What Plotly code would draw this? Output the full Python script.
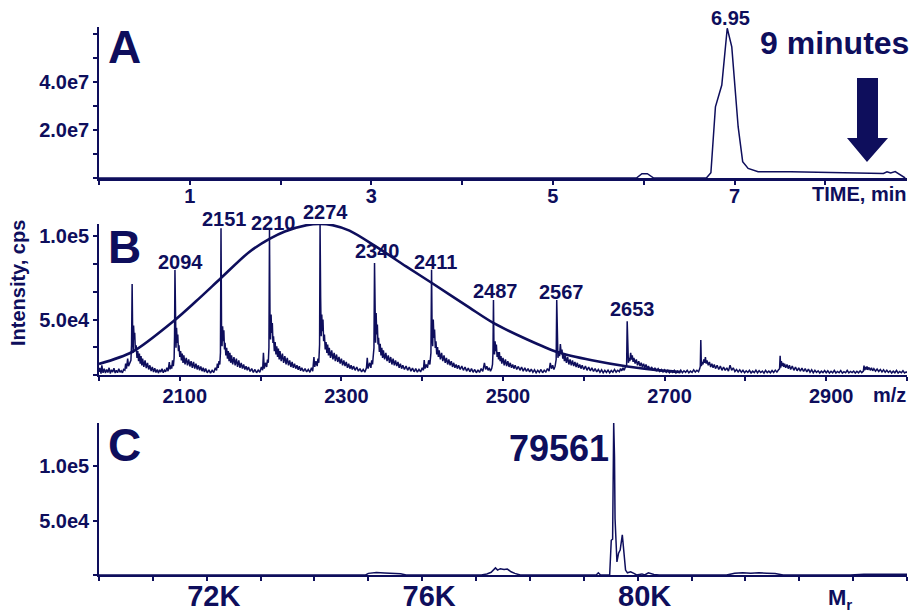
import plotly.graph_objects as go

NAVY = "#0e0e5c"
FONT = "Liberation Sans, Arial, sans-serif"
W, H = 915, 616

# ---------------- Panel A: chromatogram ----------------
a_time = [0.0, 5.92, 5.98, 6.04, 6.11, 6.69, 6.74, 6.79, 6.86, 6.92, 6.97, 7.04, 7.09, 7.15, 7.26, 7.62, 8.64, 8.68, 8.72, 8.77, 8.88]
a_int = [0, 0, 1.8e6, 1.8e6, 0, 0, 2.2e6, 2.97e7, 3.88e7, 6.25e7, 5.47e7, 2.14e7, 6.8e6, 4.0e6, 2.6e6, 2.6e6, 1.9e6, 2.6e6, 2.1e6, 2.7e6, 0]
a_ticks = [1, 3, 5, 7]
a_yticks = [2e7, 4e7]
a_yticktext = ["2.0e7", "4.0e7"]

# ---------------- Panel B: m/z spectrum (intensity in thousands of cps) ----------------
b_points = [
    (2000, 18.5), (2001, 21.0), (2002.5, 17.5), (2003.5, 22.5), (2005, 18.0), (2006.5, 20.5), (2008, 17.8), (2009.5, 20.0),
    (2011, 18.2), (2012.5, 21.0), (2014, 17.6), (2015.5, 19.8), (2017, 18.4), (2018.5, 20.8), (2020, 17.9), (2021.5, 19.5),
    (2023, 18.0), (2024.5, 20.5), (2026, 18.3), (2027.5, 19.2), (2029, 18.0), (2030.5, 20.0),
    (2032, 19.5), (2033, 23.5), (2034, 20.5), (2035.5, 26.5), (2036.5, 22.0), (2038, 24.5), (2039.5, 25.5), (2040.3, 35.0),
    (2041, 71.4), (2041.7, 40.0), (2042.3, 30.0), (2042.8, 46.5), (2043.5, 38.0), (2044.2, 42.0), (2045, 31.5), (2046, 34.5),
    (2047, 27.0), (2048, 31.0), (2049, 25.0), (2050, 29.5), (2051, 23.5), (2052, 28.0), (2053, 22.5), (2054, 26.5),
    (2055.5, 21.5), (2057, 25.5), (2058.5, 20.8), (2060, 24.0), (2061.5, 20.0), (2063, 22.5), (2064.5, 19.0), (2066, 21.5),
    (2067.5, 18.5), (2069, 20.8), (2070.5, 18.2), (2072, 20.0), (2073.5, 17.8), (2075, 19.8), (2076.5, 18.4), (2078, 20.5),
    (2079.5, 18.0), (2081, 19.6), (2082.5, 18.6), (2084, 21.0), (2085.5, 19.0), (2087, 24.5), (2088, 20.0),
    (2089, 22.5), (2090, 20.5), (2091, 25.5), (2092, 22.0), (2093, 27.0), (2093.5, 40.0), (2094, 79.9), (2094.7, 42.0),
    (2095.3, 33.0), (2096, 45.0), (2096.7, 36.0), (2097.5, 41.0), (2098.3, 31.0), (2099, 34.5), (2100, 27.5), (2101, 31.0),
    (2102, 25.5), (2103, 29.5), (2104, 24.0), (2105, 28.5), (2106.5, 23.0), (2108, 27.0), (2109.5, 22.5), (2111, 26.0),
    (2112.5, 21.8), (2114, 25.0), (2115.5, 21.0), (2117, 24.5), (2118.5, 20.5), (2120, 23.5), (2121.5, 20.0), (2123, 22.5),
    (2124.5, 19.5), (2126, 21.8), (2127.5, 19.0), (2129, 21.0), (2130.5, 18.5), (2132, 20.5), (2134, 18.0), (2136, 19.8),
    (2138, 17.8), (2140, 19.5), (2142, 18.2), (2144, 21.0),
    (2145.5, 19.5), (2146.5, 23.5), (2147.5, 21.0), (2148.5, 25.0), (2149.5, 23.0), (2150.3, 30.0), (2151, 105.0), (2151.7, 40.0),
    (2152.3, 34.0), (2153, 46.0), (2153.7, 37.0), (2154.5, 43.5), (2155.3, 32.0), (2156, 36.0), (2157, 28.5), (2158, 33.0),
    (2159, 26.5), (2160, 31.0), (2161, 25.0), (2162, 30.0), (2163, 24.0), (2164, 28.5), (2165.5, 23.0), (2167, 27.5),
    (2168.5, 22.5), (2170, 26.5), (2171.5, 21.5), (2173, 25.5), (2174.5, 21.0), (2176, 24.0), (2177.5, 20.5), (2179, 23.0),
    (2180.5, 20.0), (2182, 22.0), (2183.5, 19.5), (2185, 21.5), (2187, 18.8), (2189, 20.5), (2191, 18.2), (2193, 20.0),
    (2195, 18.0), (2197, 19.6), (2199, 18.3), (2201, 21.5), (2202.5, 19.5), (2203.5, 30.0), (2204.5, 20.5), (2206, 24.0),
    (2207.5, 21.5), (2208.5, 26.0), (2209.5, 24.0), (2210.3, 33.0), (2211, 104.0), (2211.7, 45.0), (2212.3, 38.0), (2213, 53.0),
    (2213.7, 42.0), (2214.5, 48.0), (2215.3, 36.0), (2216, 40.0), (2217, 31.0), (2218, 36.5), (2219, 29.0), (2220, 34.0),
    (2221, 27.5), (2222, 32.5), (2223, 26.0), (2224, 31.0), (2225.5, 25.0), (2227, 29.5), (2228.5, 24.0), (2230, 28.0),
    (2231.5, 23.0), (2233, 27.0), (2234.5, 22.5), (2236, 25.5), (2237.5, 21.5), (2239, 24.5), (2240.5, 21.0), (2242, 23.5),
    (2243.5, 20.5), (2245, 22.5), (2246.5, 19.8), (2248, 22.0), (2249.5, 19.2), (2251, 21.0), (2253, 18.8), (2255, 20.5),
    (2257, 18.5), (2259, 20.0), (2261, 18.3), (2263, 21.0), (2264.5, 19.0), (2266, 27.5), (2267, 21.5), (2268.5, 25.0),
    (2270, 22.0), (2271, 26.5), (2272, 24.0), (2273, 35.0), (2273.6, 107.5), (2274.3, 63.6), (2275, 40.0), (2275.7, 53.0),
    (2276.4, 43.0), (2277.2, 50.0), (2278, 37.0), (2279, 41.0), (2280, 32.0), (2281, 36.5), (2282, 30.0), (2283, 35.0),
    (2284, 28.5), (2285, 33.0), (2286.5, 27.0), (2288, 31.5), (2289.5, 26.0), (2291, 30.0), (2292.5, 25.0), (2294, 29.0),
    (2295.5, 24.5), (2297, 27.5), (2298.5, 23.5), (2300, 26.5), (2301.5, 22.5), (2303, 25.5), (2304.5, 22.0), (2306, 24.5),
    (2307.5, 21.0), (2309, 23.5), (2310.5, 20.5), (2312, 22.5), (2313.5, 20.0), (2315, 22.0), (2317, 19.5), (2319, 21.5),
    (2321, 19.0), (2323, 20.5), (2325, 18.5), (2327, 20.0), (2329, 18.4), (2331, 21.0), (2332, 27.0), (2333, 20.5), (2335, 24.0),
    (2336.5, 21.0), (2337.5, 25.5), (2338.5, 23.0), (2339.5, 27.0), (2340.3, 33.0), (2341, 84.0), (2341.7, 42.0), (2342.3, 36.0),
    (2343, 54.0), (2343.7, 41.0), (2344.5, 47.0), (2345.3, 35.0), (2346, 39.0), (2347, 30.5), (2348, 35.5), (2349, 28.5),
    (2350, 33.0), (2351, 27.0), (2352, 31.5), (2353.5, 26.0), (2355, 30.0), (2356.5, 25.0), (2358, 28.5), (2359.5, 24.0),
    (2361, 27.5), (2362.5, 23.0), (2364, 26.5), (2365.5, 22.5), (2367, 25.5), (2368.5, 22.0), (2370, 24.5), (2371.5, 21.0),
    (2373, 23.5), (2374.5, 20.5), (2376, 22.5), (2378, 20.0), (2380, 22.0), (2382, 19.5), (2384, 21.5), (2386, 19.0),
    (2388, 20.8), (2390, 18.6), (2392, 20.5), (2394, 18.4), (2396, 20.0), (2398, 18.5), (2400, 21.0), (2401.5, 19.5),
    (2402.5, 25.7), (2403.5, 20.5),
    (2405, 23.0), (2406.5, 21.0), (2408, 25.5), (2409.5, 23.0), (2410.8, 30.0), (2411.6, 80.0), (2412.3, 40.0), (2413, 34.0),
    (2413.7, 50.0), (2414.5, 39.0), (2415.3, 44.0), (2416.2, 33.0), (2417, 37.0), (2418, 29.0), (2419, 33.5), (2420, 27.5),
    (2421, 31.5), (2422.5, 26.0), (2424, 30.0), (2425.5, 25.0), (2427, 28.5), (2428.5, 24.0), (2430, 27.0), (2431.5, 23.0),
    (2433, 26.0), (2434.5, 22.5), (2436, 25.0), (2437.5, 21.5), (2439, 24.0), (2440.5, 21.0), (2442, 23.0), (2443.5, 20.5),
    (2445, 22.5), (2447, 20.0), (2449, 22.0), (2451, 19.5), (2453, 21.5), (2455, 19.0), (2457, 20.8), (2459, 18.6),
    (2461, 20.5), (2463, 18.3), (2465, 20.0), (2467, 18.0), (2469, 19.8), (2471, 18.2), (2473, 20.5), (2475, 18.8),
    (2477, 24.0), (2478.5, 20.0), (2480, 22.0), (2481.5, 19.5), (2483, 21.0), (2484.5, 19.0), (2486, 20.5),
    (2487, 23.0), (2487.6, 30.0), (2488.2, 61.8), (2488.8, 34.0), (2489.5, 29.0), (2490.2, 37.0), (2491, 31.0), (2491.8, 35.0),
    (2492.7, 27.5), (2493.5, 30.5), (2494.5, 26.0), (2495.5, 30.5), (2496.5, 25.0), (2497.5, 28.0), (2498.5, 23.5), (2500, 27.0),
    (2501.5, 22.5), (2503, 26.0), (2504.5, 22.0), (2506, 25.0), (2507.5, 21.5), (2509, 24.0), (2510.5, 21.0), (2512, 23.0),
    (2513.5, 20.5), (2515, 22.5), (2517, 20.0), (2519, 21.8), (2521, 19.5), (2523, 21.5), (2525, 19.0), (2527, 21.0),
    (2529, 18.8), (2531, 20.5), (2533, 18.5), (2535, 20.2), (2537, 18.3), (2539, 19.8), (2541, 18.0), (2543, 19.5),
    (2545, 18.2), (2547, 20.0), (2549, 18.0), (2551, 19.5), (2553, 18.5), (2555, 20.5), (2557, 19.0), (2558.5, 24.0),
    (2560, 20.5), (2561.5, 22.5), (2563, 20.0), (2564.5, 22.0), (2565.8, 26.0),
    (2566.5, 61.8), (2567.2, 30.0), (2568, 27.0), (2569, 31.0), (2570, 28.0), (2571, 35.3), (2572, 29.5), (2573, 32.0),
    (2574, 26.5), (2575, 29.0), (2576, 25.0), (2577, 28.5), (2578.5, 24.0), (2580, 27.5), (2581.5, 23.0), (2583, 26.0),
    (2584.5, 22.5), (2586, 25.5), (2587.5, 22.0), (2589, 24.5), (2590.5, 21.5), (2592, 24.0), (2593.5, 21.0), (2595, 23.0),
    (2596.5, 20.5), (2598, 22.5), (2600, 20.0), (2602, 22.0), (2604, 19.5), (2606, 21.5), (2608, 19.2), (2610, 21.0),
    (2612, 18.8), (2614, 20.5), (2616, 18.5), (2618, 20.0), (2620, 18.3), (2622, 19.8), (2624, 18.0), (2626, 19.5),
    (2628, 18.2), (2630, 19.6), (2632, 18.0), (2634, 19.4), (2636, 18.3), (2638, 20.0), (2640, 18.4), (2642, 19.5),
    (2644, 18.6), (2645.5, 20.5), (2647, 19.2), (2648.5, 21.0), (2650, 19.5), (2651.5, 21.5), (2653, 22.0),
    (2653.7, 49.0), (2654.4, 26.0), (2655.2, 24.0), (2656, 27.0), (2657, 25.0), (2658, 30.0), (2659, 26.0), (2660, 28.5),
    (2661, 24.5), (2662, 27.0), (2663.5, 23.5), (2665, 26.0), (2666.5, 22.5), (2668, 25.0), (2669.5, 22.0), (2671, 24.0),
    (2672.5, 21.5), (2674, 23.5), (2675.5, 21.0), (2677, 23.0), (2678.5, 20.5), (2680, 22.0), (2682, 20.0), (2684, 21.5),
    (2686, 19.5), (2688, 21.0), (2690, 19.0), (2692, 20.5), (2694, 18.8), (2696, 20.0), (2698, 18.5), (2700, 19.8),
    (2702, 18.3), (2704, 19.5), (2706, 18.0), (2708, 19.2), (2710, 18.2), (2712, 19.5), (2714, 17.9), (2716, 19.0),
    (2718, 18.1), (2720, 19.6), (2722, 18.0), (2724, 19.2), (2726, 18.3), (2728, 19.5), (2730, 18.0), (2732, 19.0),
    (2734, 18.2), (2736, 19.8), (2738, 18.4), (2740, 19.5), (2742, 18.6), (2743.5, 20.5), (2744.2, 22.0),
    (2744.8, 37.7), (2745.5, 22.0), (2746.5, 24.5), (2747.5, 23.0), (2748.5, 26.0), (2749.5, 24.0), (2750.5, 27.5), (2751.5, 23.5),
    (2752.5, 25.5), (2754, 22.5), (2755.5, 24.5), (2757, 21.5), (2758.5, 23.5), (2760, 21.0), (2761.5, 23.0), (2763, 20.5),
    (2765, 22.5), (2767, 20.0), (2769, 22.0), (2771, 19.5), (2773, 21.5), (2775, 19.5), (2777, 21.0), (2779, 19.0),
    (2781, 22.5), (2783, 19.5), (2785, 21.0), (2787, 18.8), (2789, 20.0), (2791, 18.5), (2793, 19.8), (2795, 18.3),
    (2797, 19.5), (2799, 18.0), (2801, 19.2), (2803, 18.2), (2805, 19.5), (2807, 17.9), (2809, 19.0), (2811, 18.1),
    (2813, 19.6), (2815, 18.0), (2817, 19.3), (2819, 18.2), (2821, 19.0), (2823, 17.8), (2825, 19.5), (2827, 18.1),
    (2829, 19.0), (2831, 18.0), (2833, 19.4), (2835, 18.2), (2837, 19.6), (2839, 18.4), (2841, 19.8), (2842.3, 20.5),
    (2843, 28.3), (2843.7, 21.0), (2844.5, 25.0), (2845.5, 22.0), (2846.5, 24.0), (2847.5, 21.5), (2848.5, 23.5), (2850, 21.0),
    (2851.5, 23.0), (2853, 20.5), (2854.5, 22.5), (2856, 20.0), (2858, 22.0), (2860, 19.5), (2862, 21.5), (2864, 19.2),
    (2866, 21.0), (2868, 19.0), (2870, 20.8), (2872, 18.8), (2874, 20.5), (2876, 18.5), (2878, 20.2), (2880, 18.3),
    (2882, 19.8), (2884, 18.0), (2886, 19.5), (2888, 18.2), (2890, 19.2), (2892, 17.9), (2894, 19.0), (2896, 18.1),
    (2898, 19.4), (2900, 18.0), (2902, 19.2), (2904, 17.8), (2906, 18.9), (2908, 18.0), (2910, 19.5), (2912, 17.9),
    (2914, 18.8), (2916, 18.0), (2918, 19.3), (2920, 17.8), (2922, 18.7), (2924, 18.0), (2926, 19.4), (2928, 17.9),
    (2930, 18.8), (2932, 18.1), (2934, 19.0), (2936, 17.8), (2938, 18.9), (2940, 18.0), (2942, 19.2), (2944, 18.1), (2946, 19.0),
    (2946.8, 22.3), (2947.5, 19.5), (2948.5, 21.5), (2949.5, 20.0), (2950.5, 21.8), (2951.5, 19.8), (2953, 21.2), (2954.5, 19.5),
    (2956, 21.0), (2957.5, 19.2), (2959, 20.5), (2961, 19.0), (2963, 20.3), (2965, 18.8), (2967, 20.0), (2969, 18.5),
    (2971, 19.8), (2973, 18.3), (2975, 19.5), (2977, 18.2), (2979, 19.2), (2981, 17.9), (2983, 19.0), (2985, 18.0),
    (2987, 19.4), (2989, 17.8), (2991, 18.8), (2993, 18.0), (2995, 19.2), (2997, 17.9), (2999, 18.5), (3000, 18.0),
]
b_mz = [p[0] for p in b_points]
b_int = [p[1] * 1000 for p in b_points]

# charge-state envelope
env_mz = [2000, 2041, 2094, 2120, 2151, 2186, 2211, 2230, 2257, 2273, 2289, 2310, 2341, 2380, 2412, 2459, 2488, 2530, 2567, 2610, 2654, 2697, 2720]
env_k = [23.3, 30.5, 49.8, 61.0, 75.0, 90.7, 98.5, 103.0, 106.8, 107.5, 106.8, 103.5, 94.5, 82.0, 72.0, 57.0, 48.0, 38.0, 30.5, 25.5, 21.8, 19.3, 18.5]
env_int = [v * 1000 for v in env_k]

b_peak_labels = ["2094", "2151", "2210", "2274", "2340", "2411", "2487", "2567", "2653"]
b_label_px = [(180, 262), (224, 219), (273, 223), (325, 212), (377, 251), (435, 262), (496, 291), (561, 292), (632, 309)]
b_ticks = [2100, 2300, 2500, 2700, 2900]
b_yticks = [5e4, 1e5]
b_yticktext = ["5.0e4", "1.0e5"]

# ---------------- Panel C: deconvoluted mass ----------------
c_mass = [70000, 74950, 75000, 75150, 75300, 75450, 75600, 75700,
          77100, 77200, 77280, 77360, 77400, 77450, 77520, 77580, 77650, 77720, 77820,
          79230, 79270, 79310, 79480, 79510, 79535, 79555, 79570, 79580, 79590, 79615, 79645, 79675, 79715,
          79745, 79775, 79810, 79870, 79930, 79980, 80080, 80130, 80200, 80300, 80400,
          81650, 81800, 81950, 82100, 82250, 82400, 82550, 82700, 83950, 84200, 84450, 84700, 85000]
c_int = [0, 0, 1500, 2200, 1800, 1500, 1200, 0,
         0, 1000, 2500, 6500, 4500, 5800, 5000, 5500, 3000, 1500, 0,
         0, 2000, 0, 0, 32000, 33000, 140000, 109000, 52000, 34000, 12000, 20000, 23000, 37000,
         23000, 4500, 2000, 3000, 1500, 0, 1000, 0, 2000, 500, 0,
         0, 1500, 2000, 1600, 2100, 1700, 1400, 0, 0, 800, 1000, 700, 600]
c_ticks = [72000, 76000, 80000]
c_ticktext = ["72K", "76K", "80K"]
c_yticks = [5e4, 1e5]
c_yticktext = ["5.0e4", "1.0e5"]


def px(x):
    return x / W


def py(y):
    return 1 - y / H


fig = go.Figure()
fig.add_trace(go.Scatter(x=a_time, y=a_int, mode="lines", line=dict(color=NAVY, width=1.5), xaxis="x", yaxis="y"))
fig.add_trace(go.Scatter(x=b_mz, y=b_int, mode="lines", line=dict(color=NAVY, width=1.5), xaxis="x2", yaxis="y2"))
fig.add_trace(go.Scatter(x=env_mz, y=env_int, mode="lines", line=dict(color=NAVY, width=2.6, shape="spline", smoothing=0.8),
                         xaxis="x2", yaxis="y2"))
fig.add_trace(go.Scatter(x=c_mass, y=c_int, mode="lines", line=dict(color=NAVY, width=1.5), xaxis="x3", yaxis="y3"))

tickfont = dict(family=FONT, size=20, color=NAVY, weight="bold")
xdom = [px(99), px(907)]
common = dict(showgrid=False, zeroline=False, showline=True, linecolor=NAVY, ticks="outside",
              tickcolor=NAVY, ticklen=4, tickwidth=1.5, tickfont=tickfont)

fig.update_layout(
    width=W, height=H, autosize=False, margin=dict(l=0, r=0, t=0, b=0, autoexpand=False),
    paper_bgcolor="white", plot_bgcolor="white", showlegend=False,
    xaxis=dict(domain=xdom, anchor="y", range=[0, 8.9], tickvals=a_ticks, linewidth=2.5, ticklabelstandoff=-6,
               minor=dict(dtick=1, tick0=0, ticks="outside", ticklen=4, tickcolor=NAVY), **common),
    yaxis=dict(domain=[py(178), py(27)], anchor="x", range=[0, 6.3e7], tickvals=a_yticks, ticktext=a_yticktext,
               linewidth=1.5, minor=dict(dtick=1e7, tick0=0, ticks="outside", ticklen=4, tickcolor=NAVY), **common),
    xaxis2=dict(domain=xdom, anchor="y2", range=[2000, 3000], tickvals=b_ticks, linewidth=2, ticklabelshift=5,
                ticklabelstandoff=-2,
                minor=dict(dtick=100, tick0=2000, ticks="outside", ticklen=4, tickcolor=NAVY), **common),
    yaxis2=dict(domain=[py(375), py(224)], anchor="x2", range=[16670, 107500], tickvals=b_yticks, ticktext=b_yticktext,
                linewidth=1.5, minor=dict(dtick=16666.67, tick0=0, ticks="outside", ticklen=4, tickcolor=NAVY), **common),
    xaxis3=dict(domain=xdom, anchor="y3", range=[70000, 85000], tickvals=c_ticks, ticktext=c_ticktext, linewidth=2,
                ticklabelshift=7, ticklabelstandoff=-10,
                minor=dict(dtick=1000, tick0=70000, ticks="outside", ticklen=4, tickcolor=NAVY),
                **{**common, "tickfont": dict(family=FONT, size=29, color=NAVY, weight="bold")}),
    yaxis3=dict(domain=[py(575), py(423)], anchor="x3", range=[0, 1.4e5], tickvals=c_yticks, ticktext=c_yticktext,
                linewidth=1.5, minor=dict(dtick=5e4, tick0=0, ticks="outside", ticklen=4, tickcolor=NAVY), **common),
)


def note(text, x, y, size, xanchor="center", yanchor="middle", angle=0):
    fig.add_annotation(text=text, x=px(x), y=py(y), xref="paper", yref="paper", showarrow=False,
                       xanchor=xanchor, yanchor=yanchor, textangle=angle,
                       font=dict(family=FONT, size=size, color=NAVY, weight="bold"))


note("A", 106, 47, 46, xanchor="left")
note("B", 106, 246.5, 46, xanchor="left")
note("C", 106, 444.5, 46, xanchor="left")
note("6.95", 730, 18, 20)
note("9 minutes", 911, 43.5, 32, xanchor="right")
note("TIME, min", 908, 194, 20, xanchor="right")
note("m/z", 908, 395, 20, xanchor="right")
note("M<sub>r</sub>", 840, 599, 22)
note("79561", 611, 448.5, 36, xanchor="right")
for lab, (lx, ly) in zip(b_peak_labels, b_label_px):
    note(lab, lx, ly, 20)
note("Intensity, cps", 18, 283, 20, angle=-90)

# block arrow in panel A
arrow = [(857, 78), (878, 78), (878, 138), (888, 138), (867, 162), (847, 138), (857, 138)]
path = "M " + " L ".join(f"{px(x):.5f},{py(y):.5f}" for x, y in arrow) + " Z"
fig.add_shape(type="path", path=path, xref="paper", yref="paper", fillcolor=NAVY, line=dict(color=NAVY, width=0))

fig.write_html("out.html", config={"displayModeBar": False, "responsive": False},
               post_script="document.body.style.margin='0px';document.documentElement.style.overflow='hidden';")
